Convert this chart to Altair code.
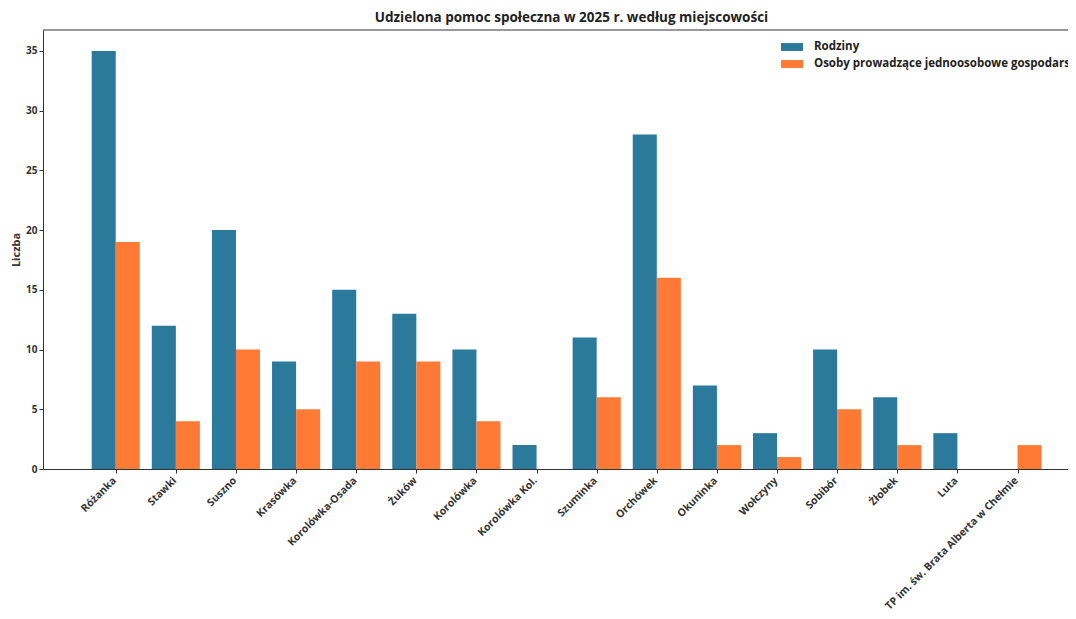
import altair as alt
import pandas as pd

places = ["Różanka", "Stawki", "Suszno", "Krasówka", "Korolówka-Osada", "Żuków",
          "Korolówka", "Korolówka Kol.", "Szuminka", "Orchówek", "Okuninka",
          "Wołczyny", "Sobibór", "Żłobek", "Luta", "TP im. św. Brata Alberta w Chełmie"]
rodziny = [35, 12, 20, 9, 15, 13, 10, 2, 11, 28, 7, 3, 10, 6, 3, 0]
osoby = [19, 4, 10, 5, 9, 9, 4, 0, 6, 16, 2, 1, 5, 2, 0, 2]
series = ["Rodziny", "Osoby prowadzące jednoosobowe gospodarstwa domowe"]
colors = ["#2b7a9c", "#ff7a35"]

rows = []
for i, p in enumerate(places):
    rows.append({"idx": i, "place": p, "series": series[0], "value": rodziny[i], "off": -1})
    rows.append({"idx": i, "place": p, "series": series[1], "value": osoby[i], "off": 0})
df = pd.DataFrame(rows)

label_arr = "[" + ",".join("'" + p + "'" for p in places) + "]"

FONT = "Open Sans"
xdom = [-1.21, 15.84]
ydom = [0, 36.75]

bars = alt.Chart(df).transform_calculate(
    x0="datum.idx + datum.off * 0.4",
    x1="datum.idx + (datum.off + 1) * 0.4",
).mark_bar(clip=True).encode(
    x=alt.X("x0:Q", scale=alt.Scale(domain=xdom, nice=False, zero=False),
            axis=alt.Axis(values=list(range(len(places))), labelExpr=label_arr + "[datum.value]",
                          labelAngle=-45, labelAlign="right", labelBaseline="top",
                          labelFont=FONT, labelFontWeight="bold", labelFontSize=10.5,
                          labelColor="#333333", labelPadding=2, labelLimit=400,
                          labelOffset=-5,
                          labelOverlap=False, labelFlush=False,
                          grid=False, tickSize=4, tickColor="#333333",
                          domainColor="#333333", title=None)),
    x2="x1:Q",
    y=alt.Y("value:Q", scale=alt.Scale(domain=ydom, nice=False),
            axis=alt.Axis(values=[0, 5, 10, 15, 20, 25, 30, 35], grid=False,
                          labelFont=FONT, labelFontWeight="bold", labelFontSize=10,
                          labelColor="#333333", tickSize=4, tickColor="#333333",
                          labelFlush=False,
                          domainColor="#333333", title="Liczba", titleFont=FONT,
                          titleFontWeight="bold", titleFontSize=11, titleColor="#333333",
                          titlePadding=4)),
    y2=alt.datum(0),
    color=alt.Color("series:N", scale=alt.Scale(domain=series, range=colors),
                    sort=series,
                    legend=alt.Legend(title=None, orient="none", legendX=738, legendY=6,
                                      labelFont=FONT, labelFontWeight="bold", labelFontSize=11.5,
                                      labelColor="#222222", labelLimit=600,
                                      symbolType="M-1,-0.36H1V0.36H-1Z", symbolSize=484,
                                      symbolStrokeWidth=0, rowPadding=0, labelOffset=11)),
)

top = alt.Chart(pd.DataFrame({"y": [ydom[1]]})).mark_rule(color="#333333", strokeWidth=1).encode(
    y=alt.Y("y:Q", scale=alt.Scale(domain=ydom, nice=False))
)

chart = alt.layer(bars, top).properties(
    width=1025, height=439,
    title=alt.TitleParams("Udzielona pomoc społeczna w 2025 r. według miejscowości",
                          font=FONT, fontSize=13.5, fontWeight="bold", color="#222222",
                          anchor="middle", dx=16, offset=5),
    autosize=alt.AutoSizeParams(type="none"),
    padding={"left": 35, "top": 22, "right": 0, "bottom": 142},
).configure_view(stroke=None)

chart.save("out.html", embed_options={"renderer": "svg", "actions": False})
